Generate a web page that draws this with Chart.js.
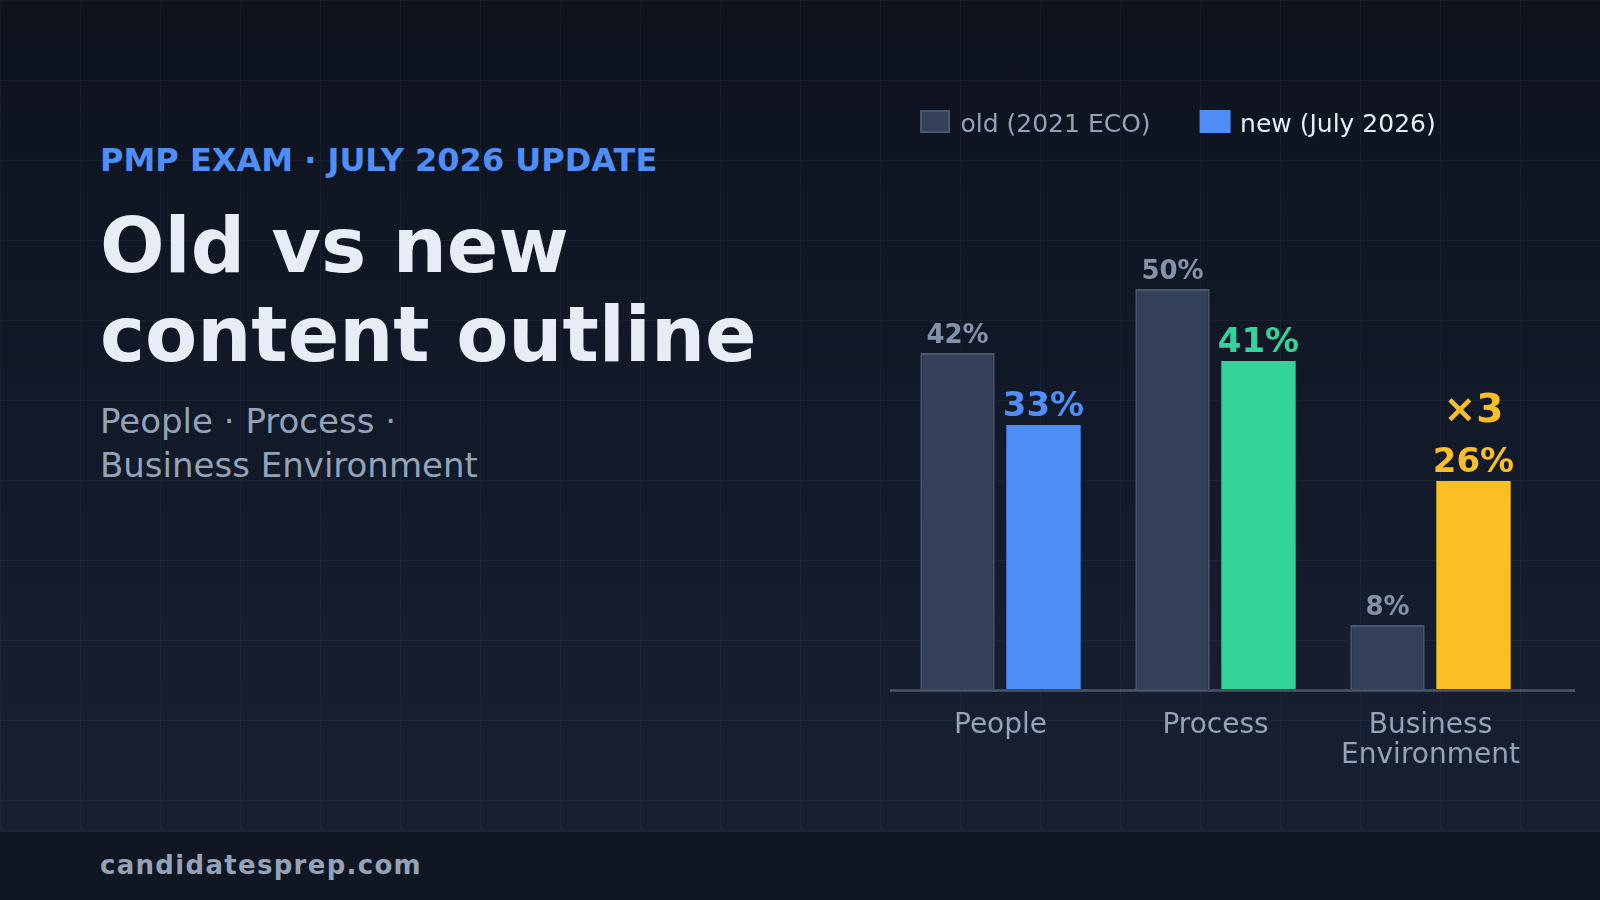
<!DOCTYPE html>
<html>
<head>
<meta charset="utf-8">
<title>PMP exam - old vs new content outline</title>
<script src="https://cdn.jsdelivr.net/npm/chart.js@4.4.1/dist/chart.umd.min.js"></script>
<style>
  html, body { margin: 0; padding: 0; }
  body {
    width: 1600px; height: 900px; overflow: hidden; position: relative;
    font-family: "DejaVu Sans", sans-serif; background: #101622;
  }
  .stage {
    position: absolute; left: 0; top: 0; width: 1600px; height: 830px;
    background-image:
      linear-gradient(to right, rgba(148,163,184,0.075) 1px, transparent 1px),
      linear-gradient(to bottom, rgba(148,163,184,0.075) 1px, transparent 1px),
      linear-gradient(to bottom, #0d121d, #172033);
    background-size: 80px 80px, 80px 80px, 100% 100%;
  }
  .footer {
    position: absolute; left: 0; top: 830px; width: 1600px; height: 70px;
    background: #101622; border-top: 2px solid #1e2636; box-sizing: border-box;
  }
  .eyebrow {
    position: absolute; left: 100px; top: 144px; margin: 0;
    font-size: 32px; line-height: 32px; font-weight: bold; color: #4f8ef7;
  }
  h1 {
    position: absolute; left: 100px; top: 201px; margin: 0;
    font-size: 76px; line-height: 89px; font-weight: bold; color: #e8ecf4;
  }
  .sub {
    position: absolute; left: 100px; top: 400px; margin: 0;
    font-size: 34px; line-height: 43.5px; color: #94a3b8;
  }
  .site {
    position: absolute; left: 100px; top: 852px; margin: 0;
    font-size: 26px; line-height: 26px; font-weight: bold; color: #94a3b8;
    letter-spacing: 1.3px;
  }
  .chart-box { position: absolute; left: 880px; top: 80px; width: 720px; height: 750px; }
</style>
</head>
<body>
<div class="stage"></div>
<div class="footer"></div>
<p class="eyebrow">PMP EXAM · JULY 2026 UPDATE</p>
<h1>Old vs new<br>content outline</h1>
<p class="sub">People · Process ·<br>Business Environment</p>
<p class="site">candidatesprep.com</p>
<div class="chart-box"><canvas id="outlineChart"></canvas></div>

<script>
// data
const categories = ['People', 'Process', ['Business', 'Environment']];
const oldShare = [42, 50, 8];
const newShare = [33, 41, 26];
const newColors = ['#4f8ef7', '#34d399', '#fbbf24'];
const notes = ['', '', '×3'];
const seriesNames = ['old (2021 ECO)', 'new (July 2026)'];

const FONT = '"DejaVu Sans", sans-serif';
const oldFill = '#334057';
const oldEdge = '#4a5670';

// value labels on top of every bar, plus the "x3" note
const valueLabels = {
    id: 'valueLabels',
    afterDatasetsDraw(chart) {
        const ctx = chart.ctx;
        ctx.save();
        ctx.textAlign = 'center';
        ctx.textBaseline = 'alphabetic';
        chart.getDatasetMeta(0).data.forEach((bar, i) => {
            ctx.font = 'bold 26px ' + FONT;
            ctx.fillStyle = '#8593aa';
            ctx.fillText(oldShare[i] + '%', bar.x, bar.y - 10);
        });
        chart.getDatasetMeta(1).data.forEach((bar, i) => {
            ctx.font = 'bold 34px ' + FONT;
            ctx.fillStyle = newColors[i];
            ctx.fillText(newShare[i] + '%', bar.x, bar.y - 9);
            if (notes[i]) {
                ctx.font = 'bold 39px ' + FONT;
                ctx.fillText(notes[i], bar.x, bar.y - 59);
            }
        });
        ctx.restore();
    }
};

// long baseline under the bars
const baseLine = {
    id: 'baseLine',
    afterDatasetsDraw(chart) {
        const ctx = chart.ctx;
        const y = chart.scales.y.getPixelForValue(0) + 1.5;
        ctx.save();
        ctx.strokeStyle = '#4b5669';
        ctx.lineWidth = 2.5;
        ctx.beginPath();
        ctx.moveTo(chart.chartArea.left - 3, y);
        ctx.lineTo(chart.chartArea.right + 37, y);
        ctx.stroke();
        ctx.restore();
    }
};

// legend row above the plot
const topLegend = {
    id: 'topLegend',
    afterDraw(chart) {
        const ctx = chart.ctx;
        const y = 41.5;
        let x = 40;
        ctx.save();
        ctx.font = '25px ' + FONT;
        ctx.textBaseline = 'middle';
        seriesNames.forEach((name, i) => {
            if (i === 0) {
                ctx.fillStyle = oldFill;
                ctx.fillRect(x, y - 11.5, 30, 23);
                ctx.strokeStyle = oldEdge;
                ctx.lineWidth = 2;
                ctx.strokeRect(x + 1, y - 10.5, 28, 21);
                ctx.fillStyle = '#94a3b8';
            } else {
                ctx.fillStyle = newColors[0];
                ctx.fillRect(x, y - 11.5, 31, 23);
                ctx.fillStyle = '#e8ecf4';
            }
            ctx.fillText(name, x + 40.5, y + 3.5);
            x += 40.5 + ctx.measureText(name).width + 49;
        });
        ctx.restore();
    }
};

new Chart(document.getElementById('outlineChart'), {
    type: 'bar',
    data: {
        labels: categories,
        datasets: [
            { label: seriesNames[0], data: oldShare, backgroundColor: oldFill, borderColor: oldEdge,
              borderWidth: { top: 2, left: 2, right: 2, bottom: 0 }, borderSkipped: false },
            { label: seriesNames[1], data: newShare, backgroundColor: newColors, borderWidth: 0 }
        ]
    },
    options: {
        responsive: true,
        maintainAspectRatio: false,
        animation: false,
        layout: { padding: { left: 13, right: 62, top: 129, bottom: 0 } },
        datasets: { bar: { categoryPercentage: 0.8, barPercentage: 0.865 } },
        plugins: { legend: { display: false }, tooltip: { enabled: false } },
        scales: {
            x: {
                grid: { display: false, drawTicks: false },
                border: { display: false },
                ticks: { color: '#94a3b8', padding: 22, font: { family: FONT, size: 28, lineHeight: 1.07 } },
                afterFit(scale) { scale.height = 141; }
            },
            y: { display: false, min: 0, max: 60 }
        }
    },
    plugins: [valueLabels, baseLine, topLegend]
});
</script>
</body>
</html>
